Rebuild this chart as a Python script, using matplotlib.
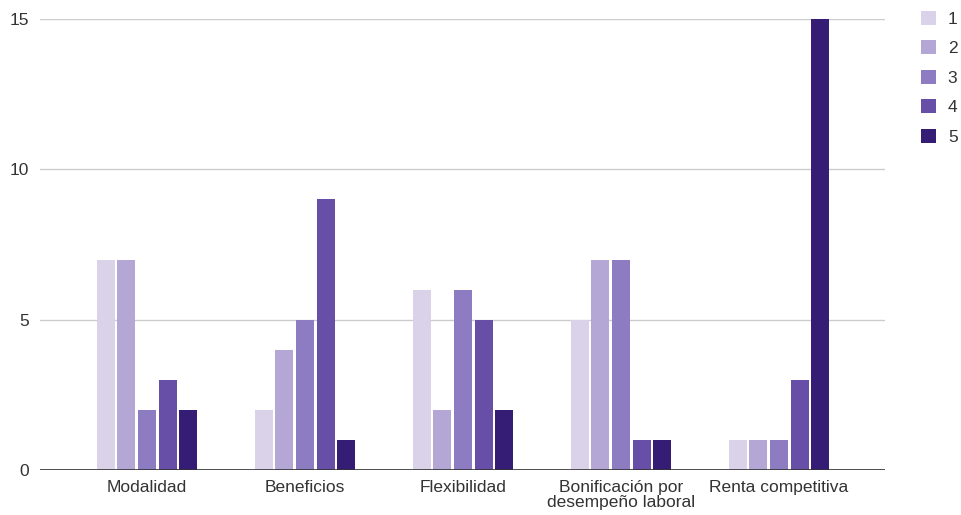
import matplotlib.pyplot as plt
import numpy as np

plt.rcParams['font.family'] = ['Liberation Sans', 'DejaVu Sans']

categorias = ['Modalidad', 'Beneficios', 'Flexibilidad',
              'Bonificación por\ndesempeño laboral', 'Renta competitiva']
series = ['1', '2', '3', '4', '5']
valores = [
    [7, 2, 6, 5, 1],
    [7, 4, 2, 7, 1],
    [2, 5, 6, 7, 1],
    [3, 9, 5, 1, 3],
    [2, 1, 2, 1, 15],
]
colores = ['#d9d2e9', '#b4a7d6', '#8e7cc3', '#674ea7', '#351c75']

fig = plt.figure(figsize=(9.61, 5.15), dpi=100)
ax = fig.add_axes([40 / 961, 45 / 515, 845 / 961, 451 / 515])

x = np.arange(len(categorias))
paso = 0.131
ancho = 0.114
for i, (serie, vals) in enumerate(zip(series, valores)):
    ax.bar(x + (i - 2) * paso, vals, width=ancho, color=colores[i],
           label=serie, zorder=3)

ax.set_xlim(-0.677, 4.671)
ax.set_ylim(0, 15)
ax.set_yticks([0, 5, 10, 15])
ax.yaxis.grid(True, color='#cccccc', linewidth=1, zorder=0)
ax.axhline(0, color='#333333', linewidth=1.2, zorder=4)
for s in ax.spines.values():
    s.set_visible(False)
ax.tick_params(axis='both', length=0, labelsize=12.5, colors='#333333')
ax.tick_params(axis='y', pad=8)
ax.tick_params(axis='x', pad=7)
ax.set_xticks(x)
ax.set_xticklabels(categorias, linespacing=1.05)

leg = fig.legend(loc='upper left', bbox_to_anchor=(914 / 961, 1 - 4 / 515),
                 frameon=False, fontsize=12.5, handlelength=0.85,
                 handleheight=0.85, labelspacing=0.78, handletextpad=0.7,
                 borderaxespad=0)
for t in leg.get_texts():
    t.set_color('#333333')

fig.savefig('out.png', dpi=100)
